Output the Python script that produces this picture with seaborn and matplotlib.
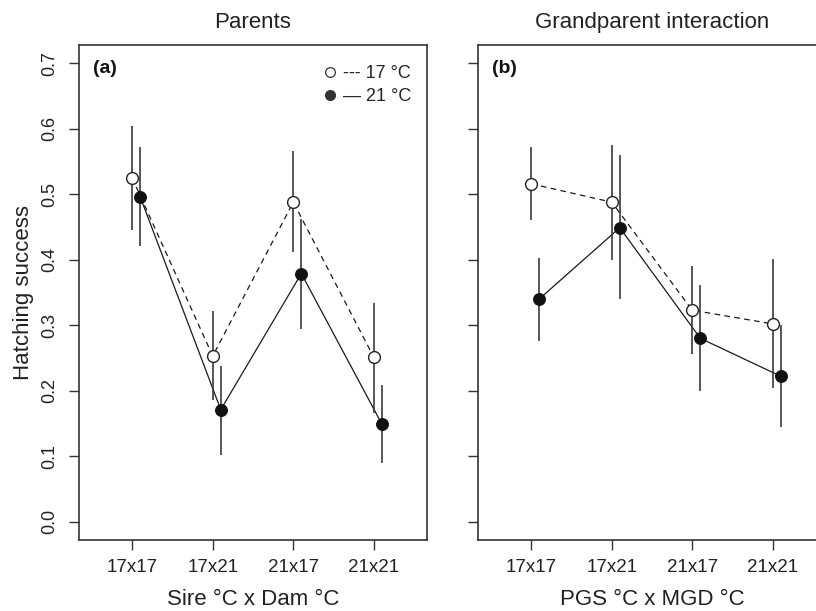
import matplotlib
matplotlib.use("Agg")
import matplotlib.pyplot as plt
import seaborn as sns
import numpy as np
import pandas as pd
from matplotlib.lines import Line2D

# ---------------- data ----------------
crosses = ["17x17", "17x21", "21x17", "21x21"]

# Panel (a) Parents
a17_mean = [0.525, 0.253, 0.488, 0.251]
a17_lo   = [0.445, 0.186, 0.412, 0.166]
a17_hi   = [0.605, 0.321, 0.566, 0.334]
a21_mean = [0.496, 0.171, 0.379, 0.149]
a21_lo   = [0.421, 0.102, 0.295, 0.090]
a21_hi   = [0.572, 0.238, 0.463, 0.208]

# Panel (b) Grandparent interaction
b17_mean = [0.516, 0.488, 0.323, 0.302]
b17_lo   = [0.461, 0.400, 0.256, 0.204]
b17_hi   = [0.572, 0.576, 0.391, 0.401]
b21_mean = [0.340, 0.449, 0.280, 0.222]
b21_lo   = [0.276, 0.340, 0.200, 0.144]
b21_hi   = [0.402, 0.560, 0.361, 0.300]

yticks = [0.0, 0.1, 0.2, 0.3, 0.4, 0.5, 0.6, 0.7]
titles = ["Parents", "Grandparent interaction"]
xlabels = ["Sire °C x Dam °C", "PGS °C x MGD °C"]
panel_tags = ["(a)", "(b)"]
legend_labels = ["--- 17 °C", "— 21 °C"]

# ---------------- style ----------------
sns.set_theme(style="white")
plt.rcParams["font.family"] = ["Liberation Sans", "DejaVu Sans"]

fig = plt.figure(figsize=(8.16, 6.11), dpi=100)
W, H = 816, 611
def ax_rect(l, r, t, b):
    return [l / W, 1 - b / H, (r - l) / W, (b - t) / H]

axA = fig.add_axes(ax_rect(79, 427, 45, 540))
axB = fig.add_axes(ax_rect(478, 826, 45, 540))

line_col = "#1a1a1a"
err_col = "#3a3a3a"
spine_col = "#333333"
off = 0.1

def draw_panel(ax, m17, lo17, hi17, m21, lo21, hi21):
    x = np.arange(1, len(crosses) + 1)
    d17 = pd.DataFrame({"x": x.astype(float), "y": m17})
    d21 = pd.DataFrame({"x": x + off, "y": m21})
    # connecting lines
    sns.lineplot(data=d17, x="x", y="y", ax=ax, color=line_col, lw=0.9,
                 linestyle=(0, (4.5, 3.5)), sort=False, estimator=None)
    sns.lineplot(data=d21, x="x", y="y", ax=ax, color=line_col, lw=0.9,
                 sort=False, estimator=None)
    # error bars
    ax.vlines(x, lo17, hi17, color=err_col, lw=1.2, zorder=3)
    ax.vlines(x + off, lo21, hi21, color=err_col, lw=1.2, zorder=3)
    # markers
    sns.scatterplot(data=d17, x="x", y="y", ax=ax, s=72, marker="o",
                    facecolor="white", edgecolor="#222222", linewidth=1.0, zorder=4)
    sns.scatterplot(data=d21, x="x", y="y", ax=ax, s=72, marker="o",
                    color="#111111", edgecolor="#111111", linewidth=0.8, zorder=4)

draw_panel(axA, a17_mean, a17_lo, a17_hi, a21_mean, a21_lo, a21_hi)
draw_panel(axB, b17_mean, b17_lo, b17_hi, b21_mean, b21_lo, b21_hi)

for i, ax in enumerate([axA, axB]):
    ax.set_xlim(0.34, 4.66)
    ax.set_ylim(-0.028, 0.728)
    ax.set_xticks(np.arange(1, len(crosses) + 1))
    ax.set_xticklabels(crosses, fontsize=13.5, color="#222222")
    ax.set_yticks(yticks)
    if i == 0:
        ax.set_yticklabels([f"{v:.1f}" for v in yticks], rotation=90,
                           va="center", fontsize=13, color="#222222")
        ax.set_ylabel("Hatching success", fontsize=16, color="#222222", labelpad=5)
    else:
        ax.set_yticklabels([])
        ax.set_ylabel("")
    ax.set_xlabel(xlabels[i], fontsize=16, color="#222222", labelpad=9)
    ax.set_title(titles[i], fontsize=16, color="#222222", pad=12)
    ax.tick_params(axis="both", direction="out", length=7, width=1.0,
                   color=spine_col, bottom=True, left=True)
    ax.tick_params(axis="x", pad=7)
    ax.tick_params(axis="y", pad=8)
    for s in ax.spines.values():
        s.set_visible(True)
        s.set_color(spine_col)
        s.set_linewidth(1.2)
    ax.text(0.04, 0.97, panel_tags[i], transform=ax.transAxes, fontsize=14,
            fontweight="bold", va="top", ha="left", color="#111111")
    ax.grid(False)

handles = [
    Line2D([], [], marker="o", ls="none", markersize=7, markerfacecolor="white",
           markeredgecolor="#333333", markeredgewidth=0.9),
    Line2D([], [], marker="o", ls="none", markersize=7, markerfacecolor="#333333",
           markeredgecolor="#333333"),
]
axA.legend(handles, legend_labels, loc="upper right", frameon=False,
           fontsize=13, handletextpad=0.1, labelspacing=0.35,
           borderaxespad=0.3, bbox_to_anchor=(0.99, 0.985), handlelength=1.2)

fig.savefig("out.png", dpi=100)
